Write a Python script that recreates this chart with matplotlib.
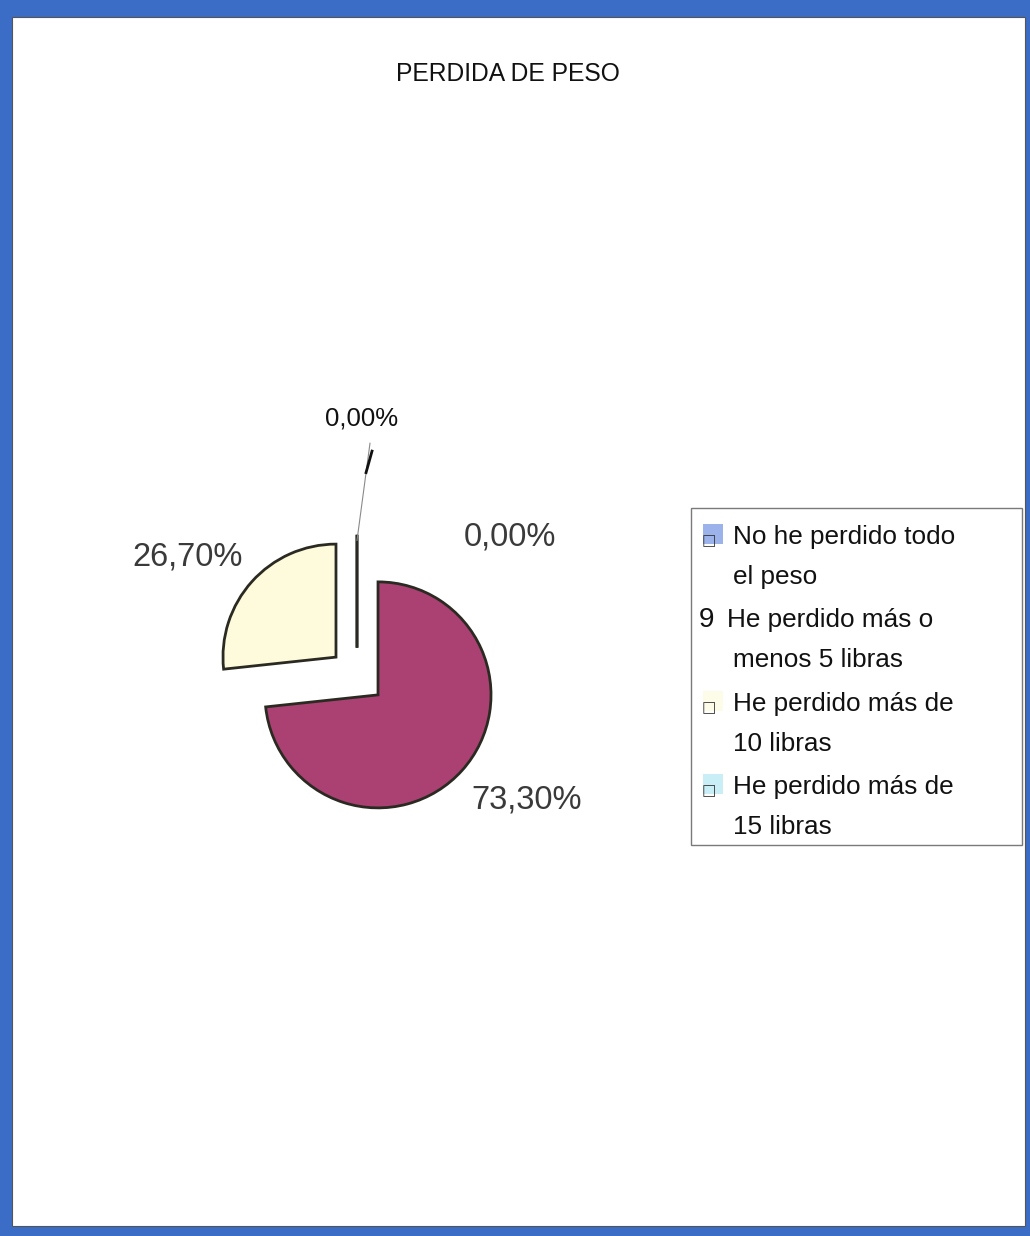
import matplotlib.pyplot as plt
from matplotlib.patches import Rectangle

# datos del grafico
titulo = "PERDIDA DE PESO"
categorias = ["No he perdido todo\nel peso",
              "He perdido más o\nmenos 5 libras",
              "He perdido más de\n10 libras",
              "He perdido más de\n15 libras"]
porcentajes = [0.0, 73.3, 26.7, 0.0]
etiquetas = ["0,00%", "73,30%", "26,70%", "0,00%"]
colores = ["#5b7fdc", "#ab4073", "#fdfbdb", "#a8e4f0"]
marcas = ["\u25a1", "9", "\u25a1", "\u25a1"]

plt.rcParams['font.family'] = ['Liberation Sans', 'DejaVu Sans']

W, H = 1030, 1236
fig = plt.figure(figsize=(W / 100, H / 100), dpi=100)
fig.patch.set_facecolor('#3b6cc6')

def fx(px):
    return px / W

def fy(py):
    return 1 - py / H

# hoja blanca dentro del marco azul (detras del pastel)
fig.patches.append(Rectangle((fx(12), fy(1226)), (1025 - 12) / W, (1226 - 17) / H,
                             transform=fig.transFigure, facecolor='white',
                             edgecolor='#555555', lw=0.8, zorder=-5))

# pastel: radio 113 px, centro en (357, 676)
r = 113
cx, cy = 357, 676
ax = fig.add_axes([fx(cx - 3 * r), fy(cy + 3 * r), 6 * r / W, 6 * r / H])
ax.pie(porcentajes, colors=colores, startangle=90, counterclock=False,
       explode=[0.25] * 4, radius=1,
       wedgeprops=dict(edgecolor='#2b2a22', linewidth=2.0))
ax.set_xlim(-3, 3)
ax.set_ylim(-3, 3)
ax.axis('off')

# etiquetas de porcentaje
ax.text(-1.50, 1.05, etiquetas[2], ha='center', va='center', fontsize=23.5, color='#3a3a3a')
ax.text(1.50, -1.10, etiquetas[1], ha='center', va='center', fontsize=23.5, color='#3a3a3a')
ax.text(1.35, 1.23, etiquetas[3], ha='center', va='center', fontsize=23.5, color='#3a3a3a')
ax.text(0.044, 2.28, etiquetas[0], ha='center', va='center', fontsize=18.5, color='#111111')
# linea guia de la etiqueta de arriba
ax.plot([0.0, 0.115], [1.20, 2.06], color='#8a8a8a', lw=0.8)
ax.plot([0.08, 0.133], [1.80, 1.99], color='#111111', lw=2.0)

# titulo
fig.text(fx(508), fy(74), titulo, ha='center', va='center', fontsize=17.7, color='#111111')

# leyenda dibujada a mano
fig.patches.append(Rectangle((fx(691), fy(845)), (1022 - 691) / W, (845 - 508) / H,
                             transform=fig.transFigure, facecolor='white',
                             edgecolor='#7a7a7a', lw=1.0, zorder=1))
for i, cat in enumerate(categorias):
    y0 = 537 + i * 83.3
    lineas = cat.split("\n")
    if marcas[i] == "9":
        fig.text(fx(707), fy(y0), marcas[i], ha='center', va='center', fontsize=20, color='#111111')
        fig.text(fx(727), fy(y0), lineas[0], ha='left', va='center', fontsize=18.8, color='#111111')
    else:
        fig.patches.append(Rectangle((fx(703), fy(y0 + 7)), 20 / W, 20 / H,
                                     transform=fig.transFigure, facecolor=colores[i],
                                     edgecolor='none', alpha=0.6, zorder=2))
        fig.text(fx(709), fy(y0 + 4), marcas[i], ha='center', va='center', fontsize=11,
                 color='#333333', family='DejaVu Sans')
        fig.text(fx(733), fy(y0), lineas[0], ha='left', va='center', fontsize=18.8, color='#111111')
    fig.text(fx(733), fy(y0 + 40), lineas[1], ha='left', va='center', fontsize=18.8, color='#111111')

fig.savefig('out.png', dpi=100)
